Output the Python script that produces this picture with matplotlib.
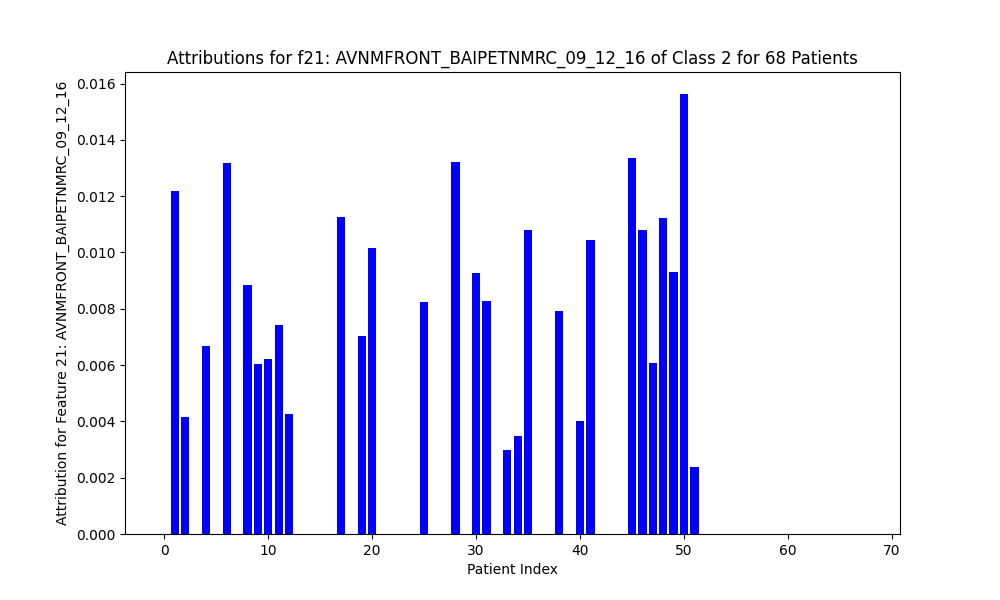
import matplotlib
matplotlib.use("Agg")
import matplotlib.pyplot as plt
import numpy as np

n_patients = 68
nonzero_idx = [1, 2, 4, 6, 8, 9, 10, 11, 12, 17, 19, 20, 25, 28, 30, 31, 33, 34, 35,
               38, 40, 41, 45, 46, 47, 48, 49, 50, 51]
nonzero_val = [0.01217, 0.00415, 0.00667, 0.01318, 0.00885, 0.00603, 0.00622, 0.00743,
               0.00427, 0.01127, 0.00703, 0.01015, 0.00823, 0.01321, 0.00927, 0.00827,
               0.00298, 0.00348, 0.01080, 0.00793, 0.00401, 0.01045, 0.01335, 0.01080,
               0.00607, 0.01122, 0.00930, 0.01563, 0.00238]

attr = np.zeros(n_patients)
attr[nonzero_idx] = nonzero_val

fig, ax = plt.subplots(figsize=(10, 6))
ax.bar(np.arange(n_patients), attr, color="blue")
ax.set_xlabel("Patient Index")
ax.set_ylabel("Attribution for Feature 21: AVNMFRONT_BAIPETNMRC_09_12_16")
ax.set_title("Attributions for f21: AVNMFRONT_BAIPETNMRC_09_12_16 of Class 2 for 68 Patients")
fig.savefig("out.png", dpi=100)
